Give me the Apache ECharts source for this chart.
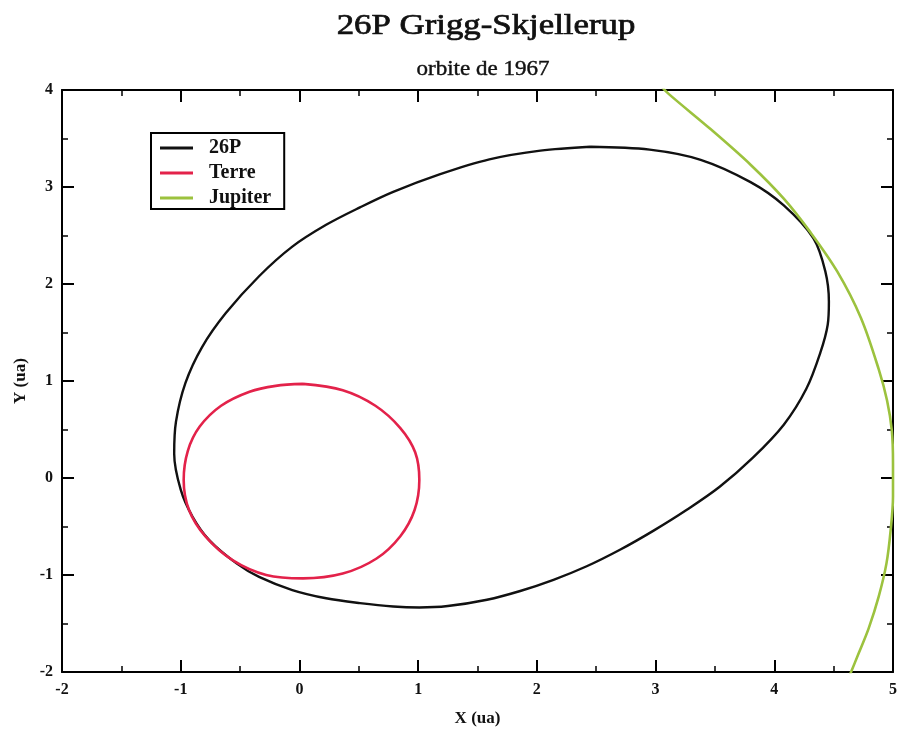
<!DOCTYPE html>
<html>
<head>
<meta charset="utf-8">
<script src="https://cdn.jsdelivr.net/npm/echarts@6/dist/echarts.min.js"></script>
<style>
html,body{margin:0;padding:0;background:#fff;}
#chart{width:898px;height:729px;}
</style>
</head>
<body>
<div id="chart"></div>
<script>
// ---- data (units: ua) ----
var titleText = '26P Grigg-Skjellerup';
var subtitleText = 'orbite de 1967';
var seriesNames = ['26P', 'Terre', 'Jupiter'];
var xTicks = [-2, -1, 0, 1, 2, 3, 4, 5];
var yTicks = [-2, -1, 0, 1, 2, 3, 4];

var comet26P = [
  [2.45, 3.415], [2.03, 3.375], [1.60, 3.285], [1.18, 3.13], [0.79, 2.95],
  [0.51, 2.79], [0.225, 2.61], [-0.06, 2.385], [-0.34, 2.08], [-0.62, 1.70],
  [-0.82, 1.35], [-0.96, 0.98], [-1.04, 0.58], [-1.055, 0.25], [-1.0, -0.12],
  [-0.90, -0.40], [-0.76, -0.64], [-0.53, -0.88], [-0.34, -1.02], [-0.06, -1.155],
  [0.225, -1.24], [0.51, -1.29], [0.79, -1.325], [1.01, -1.335], [1.25, -1.32],
  [1.58, -1.255], [1.86, -1.165], [2.14, -1.05], [2.42, -0.91], [2.70, -0.74],
  [2.98, -0.545], [3.26, -0.33], [3.54, -0.09], [3.82, 0.21], [4.08, 0.55],
  [4.27, 0.92], [4.39, 1.30], [4.45, 1.58], [4.46, 1.82], [4.43, 2.13],
  [4.33, 2.47], [4.08, 2.81], [3.80, 3.05], [3.38, 3.28], [2.95, 3.385],
  [2.45, 3.415]
];

var terre = [
  [0.03, 0.97], [-0.20, 0.95], [-0.42, 0.89], [-0.66, 0.745], [-0.84, 0.53],
  [-0.94, 0.28], [-0.975, -0.02], [-0.93, -0.33], [-0.79, -0.605], [-0.56, -0.85],
  [-0.28, -1.0], [0.03, -1.035], [0.365, -0.985], [0.65, -0.83], [0.85, -0.60],
  [0.97, -0.33], [1.01, -0.02], [0.975, 0.265], [0.85, 0.515], [0.64, 0.745],
  [0.365, 0.905], [0.03, 0.97]
];

var jupiter = [
  [3.04, 4.05], [3.11, 3.96], [3.46, 3.60], [3.80, 3.23], [4.08, 2.88],
  [4.30, 2.54], [4.53, 2.13], [4.73, 1.65], [4.88, 1.12], [4.95, 0.80],
  [4.99, 0.49], [5.0, 0.15], [5.0, -0.19], [4.98, -0.54], [4.945, -0.88],
  [4.88, -1.22], [4.795, -1.55], [4.71, -1.81], [4.63, -2.05]
];

var colors = ['#111111', '#e3224a', '#9cc23e'];
// ---------------------------------------------------------

var serif = "'Liberation Serif','DejaVu Serif','Times New Roman',serif";

function axisBase(extra) {
  var o = {
    type: 'value',
    axisLine: { show: true, onZero: false, lineStyle: { color: '#000', width: 2 } },
    axisTick: { show: true, inside: true, length: 12, lineStyle: { color: '#000', width: 2 } },
    minorTick: { show: true, splitNumber: 2, length: 6, lineStyle: { color: '#000', width: 1.5 } },
    splitLine: { show: false },
    minorSplitLine: { show: false }
  };
  for (var k in extra) o[k] = extra[k];
  return o;
}

var chart = echarts.init(document.getElementById('chart'), null, { renderer: 'canvas' });

var option = {
  backgroundColor: '#ffffff',
  animation: false,
  graphic: [
    { type: 'text', x: 486, y: 26, scaleX: 1.2, scaleY: 1,
      style: { text: titleText, font: "29px " + serif, fill: '#111', stroke: '#111', lineWidth: 0.7,
        textAlign: 'center', textVerticalAlign: 'middle', verticalAlign: 'middle' } },
    { type: 'text', x: 483, y: 70, scaleX: 1.15, scaleY: 1,
      style: { text: subtitleText, font: "20px " + serif, fill: '#111', stroke: '#111', lineWidth: 0.4,
        textAlign: 'center', textVerticalAlign: 'middle', verticalAlign: 'middle' } }
  ],
  grid: { left: 62, right: 5, top: 90, bottom: 57, containLabel: false, outerBoundsMode: 'none' },
  legend: {
    data: seriesNames,
    orient: 'vertical',
    left: 151, top: 133,
    padding: [5, 13, 1, 9],
    icon: 'rect',
    itemWidth: 33, itemHeight: 3, itemGap: 5,
    borderColor: '#000', borderWidth: 2, backgroundColor: '#fff',
    textStyle: { fontFamily: serif, fontSize: 20, fontWeight: 'bold', lineHeight: 17, color: '#111',
      padding: [0, 0, 0, 11] }
  },
  xAxis: [
    axisBase({ min: xTicks[0], max: xTicks[xTicks.length - 1], interval: 1, position: 'bottom',
      name: 'X (ua)', nameLocation: 'middle', nameGap: 38,
      nameTextStyle: { fontFamily: serif, fontSize: 17, fontWeight: 'bold', color: '#111' },
      axisLabel: { show: true, margin: 10, color: '#111', fontFamily: serif, fontSize: 16, fontWeight: 'bold',
        showMinLabel: true, showMaxLabel: true } }),
    axisBase({ min: xTicks[0], max: xTicks[xTicks.length - 1], interval: 1, position: 'top',
      axisLabel: { show: false } })
  ],
  yAxis: [
    axisBase({ min: yTicks[0], max: yTicks[yTicks.length - 1], interval: 1, position: 'left',
      name: 'Y (ua)', nameLocation: 'middle', nameGap: 27,
      nameTextStyle: { fontFamily: serif, fontSize: 17, fontWeight: 'bold', color: '#111' },
      axisLabel: { show: true, margin: 9, color: '#111', fontFamily: serif, fontSize: 16, fontWeight: 'bold',
        showMinLabel: true, showMaxLabel: true } }),
    axisBase({ min: yTicks[0], max: yTicks[yTicks.length - 1], interval: 1, position: 'right',
      axisLabel: { show: false } })
  ],
  series: [
    { name: seriesNames[0], type: 'line', data: comet26P, xAxisIndex: 0, yAxisIndex: 0,
      smooth: 0.33, symbol: 'none', clip: true, color: colors[0],
      lineStyle: { color: colors[0], width: 2.4 } },
    { name: seriesNames[1], type: 'line', data: terre, xAxisIndex: 0, yAxisIndex: 0,
      smooth: 0.33, symbol: 'none', clip: true, color: colors[1],
      lineStyle: { color: colors[1], width: 2.6 } },
    { name: seriesNames[2], type: 'line', data: jupiter, xAxisIndex: 0, yAxisIndex: 0,
      smooth: 0.33, symbol: 'none', clip: true, color: colors[2],
      lineStyle: { color: colors[2], width: 2.6 } }
  ]
};

chart.setOption(option);
</script>
</body>
</html>
